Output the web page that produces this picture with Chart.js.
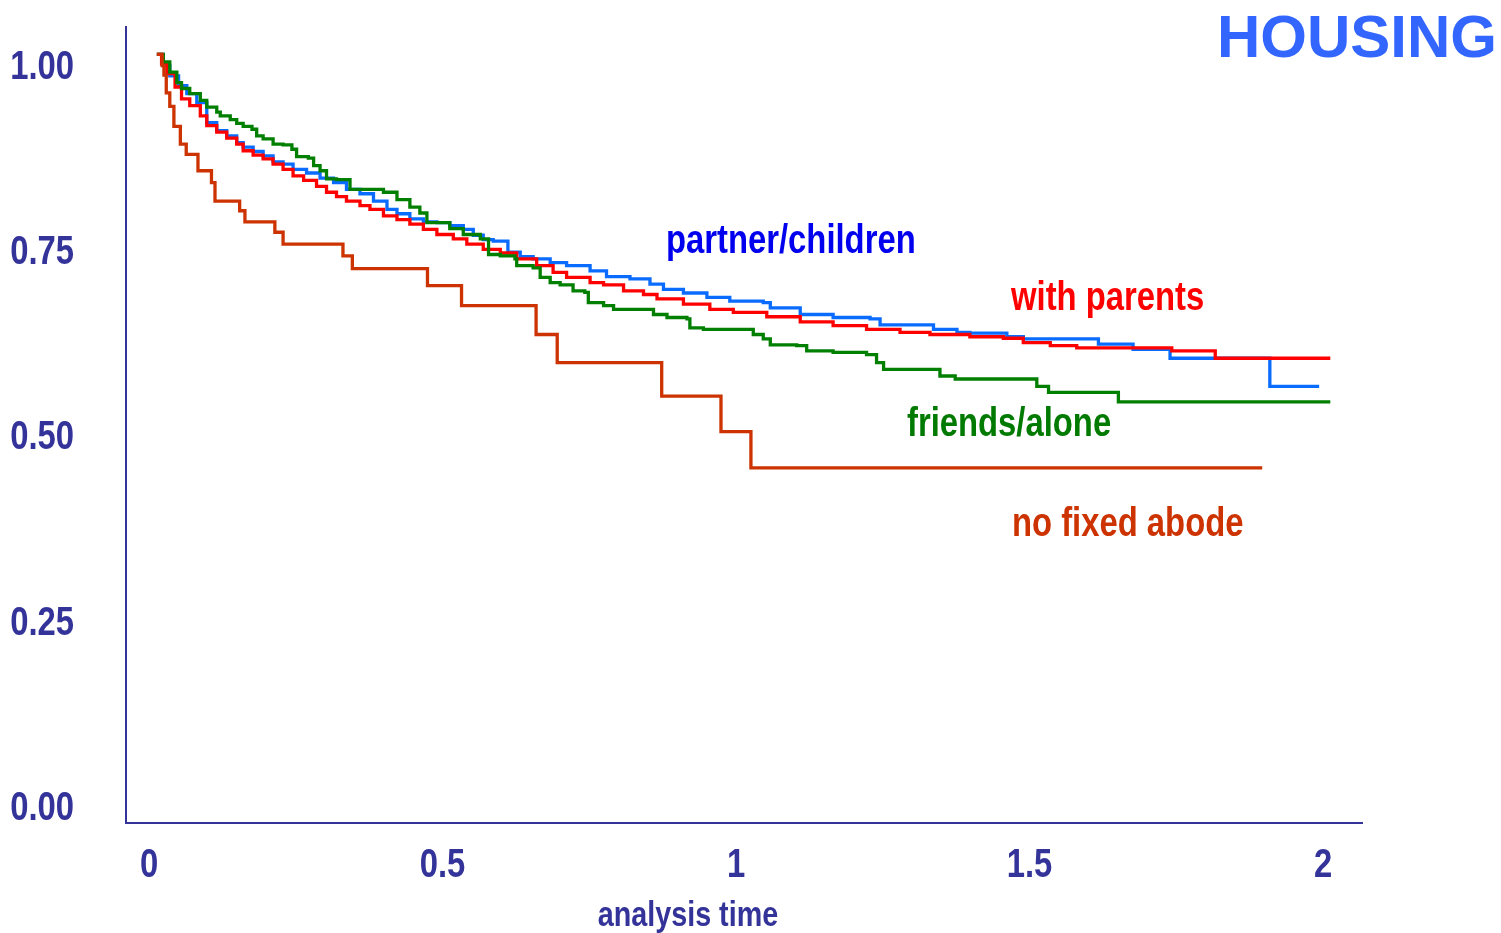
<!DOCTYPE html>
<html>
<head>
<meta charset="utf-8">
<script src="https://cdn.jsdelivr.net/npm/chart.js@4.4.1/dist/chart.umd.min.js"></script>
<style>
  body { margin: 0; background: #fff; }
  #wrap { width: 1501px; height: 933px; position: relative; }
</style>
</head>
<body>
<div id="wrap"><canvas id="myChart"></canvas></div>
<script>
'use strict';

// survival estimates (time in years)
const partnerTime = [0.010, 0.021, 0.032, 0.047, 0.061, 0.078, 0.095, 0.112, 0.129, 0.146,
  0.157, 0.174, 0.191, 0.208, 0.225, 0.242, 0.265, 0.288, 0.311, 0.333,
  0.356, 0.379, 0.402, 0.419, 0.441, 0.464, 0.487, 0.509, 0.532, 0.549,
  0.566, 0.583, 0.608, 0.629, 0.651, 0.680, 0.708, 0.748, 0.776, 0.816,
  0.850, 0.873, 0.907, 0.947, 0.986, 1.043, 1.055, 1.106, 1.162, 1.225,
  1.242, 1.333, 1.373, 1.395, 1.458, 1.486, 1.614, 1.673, 1.736, 1.906, 1.990];
const partnerSurv = [1.000, 0.985, 0.971, 0.958, 0.947, 0.935, 0.908, 0.897, 0.890, 0.881,
  0.875, 0.869, 0.863, 0.855, 0.852, 0.845, 0.840, 0.833, 0.827, 0.818,
  0.812, 0.802, 0.791, 0.785, 0.778, 0.774, 0.773, 0.769, 0.764, 0.756,
  0.750, 0.748, 0.733, 0.727, 0.724, 0.719, 0.715, 0.708, 0.700, 0.697,
  0.690, 0.683, 0.678, 0.672, 0.667, 0.665, 0.658, 0.649, 0.645, 0.643,
  0.635, 0.629, 0.625, 0.624, 0.619, 0.616, 0.609, 0.602, 0.590, 0.552, 0.552];

const parentsTime = [0.010, 0.018, 0.027, 0.041, 0.052, 0.066, 0.084, 0.095, 0.112, 0.129,
  0.146, 0.157, 0.174, 0.191, 0.208, 0.225, 0.242, 0.260, 0.282, 0.299,
  0.316, 0.333, 0.356, 0.373, 0.396, 0.419, 0.441, 0.464, 0.487, 0.515,
  0.538, 0.566, 0.595, 0.623, 0.657, 0.685, 0.708, 0.748, 0.771, 0.805,
  0.839, 0.862, 0.907, 0.952, 0.992, 1.049, 1.106, 1.162, 1.219, 1.276,
  1.327, 1.395, 1.452, 1.486, 1.532, 1.577, 1.739, 1.813, 2.009];
const parentsSurv = [1.000, 0.987, 0.974, 0.956, 0.940, 0.931, 0.917, 0.904, 0.895, 0.887,
  0.879, 0.870, 0.864, 0.859, 0.852, 0.845, 0.836, 0.830, 0.822, 0.814,
  0.808, 0.802, 0.796, 0.791, 0.782, 0.777, 0.771, 0.764, 0.757, 0.751,
  0.744, 0.737, 0.732, 0.724, 0.715, 0.706, 0.699, 0.692, 0.689, 0.681,
  0.676, 0.670, 0.663, 0.656, 0.652, 0.646, 0.639, 0.634, 0.629, 0.625,
  0.622, 0.619, 0.617, 0.611, 0.607, 0.604, 0.600, 0.590, 0.590];

const friendsTime = [0.010, 0.021, 0.032, 0.044, 0.052, 0.066, 0.084, 0.095, 0.112, 0.118,
  0.135, 0.146, 0.157, 0.172, 0.180, 0.191, 0.208, 0.225, 0.240, 0.248,
  0.268, 0.277, 0.288, 0.299, 0.316, 0.339, 0.396, 0.419, 0.441, 0.458,
  0.470, 0.509, 0.532, 0.561, 0.575, 0.595, 0.620, 0.623, 0.651, 0.663,
  0.680, 0.697, 0.719, 0.739, 0.745, 0.771, 0.788, 0.856, 0.879, 0.913,
  0.918, 0.941, 1.026, 1.043, 1.055, 1.100, 1.117, 1.162, 1.219, 1.236,
  1.248, 1.344, 1.370, 1.509, 1.529, 1.648, 2.009];
const friendsSurv = [1.000, 0.990, 0.976, 0.962, 0.954, 0.947, 0.938, 0.929, 0.922, 0.917,
  0.912, 0.907, 0.903, 0.899, 0.890, 0.886, 0.879, 0.878, 0.872, 0.862,
  0.860, 0.850, 0.843, 0.832, 0.831, 0.818, 0.814, 0.804, 0.794, 0.786,
  0.773, 0.765, 0.757, 0.751, 0.730, 0.728, 0.724, 0.715, 0.712, 0.699,
  0.692, 0.689, 0.681, 0.679, 0.665, 0.661, 0.656, 0.649, 0.645, 0.643,
  0.631, 0.629, 0.622, 0.616, 0.608, 0.607, 0.600, 0.598, 0.595, 0.584,
  0.575, 0.566, 0.562, 0.552, 0.544, 0.531, 0.531];

const abodeTime = [0.010, 0.019, 0.022, 0.026, 0.032, 0.039, 0.050, 0.060, 0.080, 0.103,
  0.109, 0.151, 0.160, 0.211, 0.225, 0.327, 0.343, 0.471, 0.529, 0.656,
  0.692, 0.870, 0.971, 1.022, 1.893];
const abodeSurv = [1.000, 0.985, 0.972, 0.948, 0.930, 0.903, 0.879, 0.865, 0.843, 0.827,
  0.802, 0.789, 0.774, 0.760, 0.744, 0.728, 0.711, 0.688, 0.661, 0.622,
  0.584, 0.539, 0.491, 0.442, 0.442];

const xTicks = [0, 0.5, 1, 1.5, 2];
const xTickLabels = ['0', '0.5', '1', '1.5', '2'];
const yTicks = [0, 0.25, 0.5, 0.75, 1];
const yTickLabels = ['0.00', '0.25', '0.50', '0.75', '1.00'];

const groupNames = ['partner/children', 'with parents', 'friends/alone', 'no fixed abode'];

const AXIS_COLOR = '#333399';
const SANS = '"Liberation Sans", Arial, sans-serif';

function toPoints(times, surv) {
  return times.map((t, i) => ({x: t, y: surv[i]}));
}

// no narrow font here, so squeeze the bold sans like Arial Narrow
function narrowText(ctx, text, x, y, align, size, color) {
  ctx.save();
  ctx.translate(x, y);
  ctx.scale(0.82, 1);
  ctx.font = 'bold ' + size + 'px ' + SANS;
  ctx.fillStyle = color;
  ctx.textAlign = align;
  ctx.textBaseline = 'alphabetic';
  ctx.fillText(text, 0, 0);
  ctx.restore();
}

const plotText = {
  id: 'plotText',
  afterDraw(chart) {
    const ctx = chart.ctx;
    const xs = chart.scales.x;
    const ys = chart.scales.y;

    xs.ticks.forEach((tk, i) => {
      narrowText(ctx, xTickLabels[i], xs.getPixelForValue(tk.value) - 2, 877, 'center', 40, AXIS_COLOR);
    });
    ys.ticks.forEach((tk, i) => {
      narrowText(ctx, yTickLabels[i], 74, ys.getPixelForValue(tk.value) + 24.5, 'right', 40, AXIS_COLOR);
    });
    narrowText(ctx, 'analysis time', 688, 926, 'center', 35, AXIS_COLOR);

    narrowText(ctx, groupNames[0], 666, 253, 'left', 40, '#0000ee');
    narrowText(ctx, groupNames[1], 1011, 310, 'left', 40, '#ff0000');
    narrowText(ctx, groupNames[2], 907, 436, 'left', 40, '#007a00');
    narrowText(ctx, groupNames[3], 1012, 536, 'left', 40, '#cc3300');

    ctx.save();
    ctx.fillStyle = '#3366ff';
    ctx.textAlign = 'right';
    ctx.textBaseline = 'alphabetic';
    ctx.font = 'bold 60px ' + SANS;
    ctx.fillText('HOUSING', 1497, 57);
    ctx.restore();
  }
};

const ctxChart = document.getElementById('myChart');
const chart = new Chart(ctxChart, {
  type: 'line',
  data: {
    datasets: [
      {label: groupNames[3], data: toPoints(abodeTime, abodeSurv), borderColor: '#cc3300'},
      {label: groupNames[2], data: toPoints(friendsTime, friendsSurv), borderColor: '#007f00'},
      {label: groupNames[1], data: toPoints(parentsTime, parentsSurv), borderColor: '#ff0000'},
      {label: groupNames[0], data: toPoints(partnerTime, partnerSurv), borderColor: '#0a6cff'}
    ].map(ds => Object.assign(ds, {
      stepped: 'before',
      borderWidth: 3.3,
      pointRadius: 0,
      fill: false
    }))
  },
  options: {
    responsive: true,
    maintainAspectRatio: false,
    animation: false,
    layout: {padding: {top: 27, right: 139, left: 0, bottom: 0}},
    plugins: {legend: {display: false}, tooltip: {enabled: false}},
    scales: {
      x: {
        type: 'linear',
        min: -0.0426,
        max: 2.063,
        afterBuildTicks: axis => { axis.ticks = xTicks.map(v => ({value: v})); },
        afterFit: axis => { axis.height = 110; },
        grid: {display: false, drawTicks: false},
        border: {display: true, color: AXIS_COLOR, width: 2},
        ticks: {display: false}
      },
      y: {
        type: 'linear',
        min: -0.0372,
        max: 1.037,
        afterBuildTicks: axis => { axis.ticks = yTicks.map(v => ({value: v})); },
        afterFit: axis => { axis.width = 126; },
        grid: {display: false, drawTicks: false},
        border: {display: true, color: AXIS_COLOR, width: 2},
        ticks: {display: false}
      }
    }
  },
  plugins: [plotText]
});
</script>
</body>
</html>
